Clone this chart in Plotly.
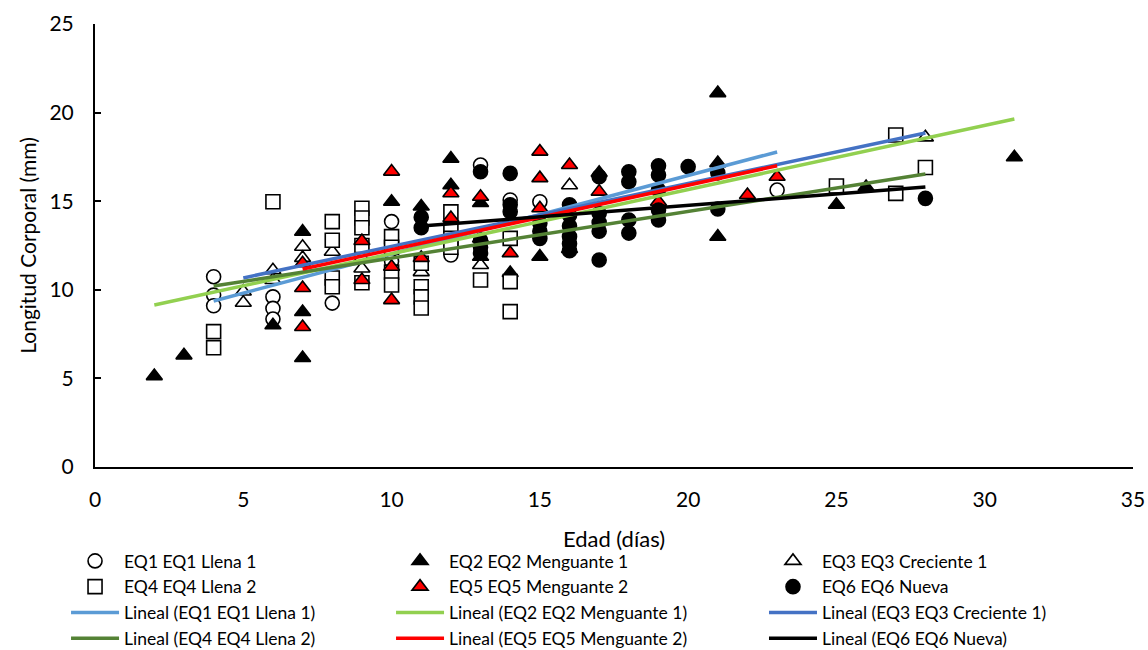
import plotly.graph_objects as go

# ---- data ----
eq1_x = [4, 4, 4, 6, 6, 6, 8, 10, 10, 12, 13, 14, 15, 23]
eq1_y = [10.74, 9.7, 9.1, 9.6, 8.95, 8.35, 9.25, 13.85, 11.6, 11.96, 17.04, 15.07, 14.97, 15.63]

eq2_x = [2, 3, 6, 7, 7, 7, 10, 11, 12, 12, 13, 13, 14, 15, 16, 17, 21, 21, 21, 25, 26, 31]
eq2_y = [5.13, 6.3, 8.0, 13.28, 8.75, 6.15, 14.97, 14.7, 17.4, 15.9, 14.9, 11.87, 10.95,
         11.87, 12.3, 16.6, 21.1, 17.15, 13.0, 14.8, 15.8, 17.48]

eq3_x = [5, 5, 6, 6, 7, 7, 8, 9, 9, 11, 13, 16, 28]
eq3_y = [9.9, 9.27, 11.1, 10.55, 12.43, 11.8, 12.15, 11.8, 11.2, 11.0, 11.4, 15.9, 18.6]

eq4_x = [4, 4, 6, 8, 8, 8, 8, 9, 9, 9, 9, 9, 10, 10, 10, 10, 11, 11, 11, 11,
         12, 12, 12, 12, 13, 14, 14, 14, 25, 27, 27, 28]
eq4_y = [7.64, 6.73, 14.97, 13.85, 12.8, 10.67, 10.17, 14.6, 14.05, 13.5, 12.5, 10.4,
         13.0, 12.4, 11.0, 10.27, 11.5, 10.17, 9.6, 8.97, 14.4, 13.4, 12.9, 12.4,
         10.55, 12.9, 10.46, 8.77, 15.86, 18.74, 15.44, 16.9]

eq5_x = [7, 7, 7, 9, 9, 10, 10, 10, 11, 12, 12, 13, 13, 14, 15, 15, 15, 16, 17, 19, 22, 23]
eq5_y = [11.5, 10.1, 7.9, 12.75, 10.55, 16.67, 11.3, 9.42, 11.8, 15.45, 14.05, 15.25,
         12.9, 12.07, 17.8, 16.3, 14.6, 17.04, 15.54, 14.97, 15.35, 16.38]

eq6_x = [11, 11, 13, 13, 13, 13, 14, 14, 14, 15, 15, 15, 16, 16, 16, 16, 16, 16,
         17, 17, 17, 17, 17, 18, 18, 18, 18, 19, 19, 19, 19, 19, 20, 21, 21, 28]
eq6_y = [14.1, 13.5, 16.66, 12.8, 12.4, 12.07, 16.57, 14.8, 14.4, 13.75, 13.3, 12.9,
         14.8, 14.2, 13.6, 13.0, 12.6, 12.2, 16.38, 14.3, 13.8, 13.3, 11.68,
         16.66, 16.1, 13.94, 13.2, 17.0, 16.48, 15.63, 14.5, 13.94, 16.95, 16.6, 14.56, 15.16]

# trend line end points (as drawn in the reference)
trend_x0 = [4, 2, 5, 4, 7, 11]
trend_x1 = [23, 31, 28, 28, 23, 28]
trend_y0 = [9.37, 9.14, 10.67, 10.21, 11.17, 13.6]
trend_y1 = [17.78, 19.64, 18.85, 16.53, 17.0, 15.8]

names = ["EQ1 EQ1 Llena 1", "EQ2 EQ2 Menguante 1", "EQ3 EQ3 Creciente 1",
         "EQ4 EQ4 Llena 2", "EQ5 EQ5 Menguante 2", "EQ6 EQ6 Nueva"]

xs = [eq1_x, eq2_x, eq3_x, eq4_x, eq5_x, eq6_x]
ys = [eq1_y, eq2_y, eq3_y, eq4_y, eq5_y, eq6_y]

symbols = ["circle", "triangle-up", "triangle-up", "square", "triangle-up", "circle"]
fills = ["white", "black", "white", "white", "red", "black"]
trend_colors = ["#5B9BD5", "#92D050", "#4472C4", "#548235", "#FF0000", "#000000"]
legend_ids = ["legend", "legend2", "legend3", "legend", "legend2", "legend3"]

FONT = "Lato"

fig = go.Figure()
for i in range(6):
    fig.add_trace(go.Scatter(
        x=xs[i], y=ys[i], mode="markers", name=names[i],
        marker=dict(symbol=symbols[i], size=14, color=fills[i],
                    line=dict(color="black", width=1.6)),
        legend=legend_ids[i], cliponaxis=False,
    ))
for i in range(6):
    fig.add_trace(go.Scatter(
        x=[trend_x0[i], trend_x1[i]], y=[trend_y0[i], trend_y1[i]],
        mode="lines", name="Lineal (" + names[i] + ")",
        line=dict(color=trend_colors[i], width=3.5),
        legend=legend_ids[i],
    ))

leg_common = dict(orientation="v", yanchor="top", y=-0.1716, xanchor="left",
                  font=dict(family=FONT, size=17.5, color="black"),
                  bgcolor="rgba(0,0,0,0)", itemwidth=48, tracegroupgap=0)

fig.update_layout(
    width=1148, height=650,
    margin=dict(l=95, r=15, t=24, b=183, autoexpand=False),
    paper_bgcolor="white", plot_bgcolor="white",
    font=dict(family=FONT, size=19, color="black"),
    showlegend=True,
    legend=dict(x=-0.0279, **leg_common),
    legend2=dict(x=0.2852, **leg_common),
    legend3=dict(x=0.6445, **leg_common),
    xaxis=dict(range=[0, 35], tickvals=[0, 5, 10, 15, 20, 25, 30, 35],
               showgrid=False, zeroline=False, showline=True, linecolor="black",
               linewidth=2, ticks="", tickfont=dict(family=FONT, size=21),
               ticklabelstandoff=13, automargin=False,
               title=dict(text="Edad (días)", font=dict(family=FONT, size=22), standoff=21)),
    yaxis=dict(range=[0, 25], tickvals=[0, 5, 10, 15, 20, 25],
               showgrid=False, zeroline=False, showline=True, linecolor="black",
               linewidth=2, ticks="inside", ticklen=6, tickwidth=2, tickcolor="black",
               tickfont=dict(family=FONT, size=21), ticklabelstandoff=15, automargin=False,
               title=dict(text="Longitud Corporal (mm)", font=dict(family=FONT, size=21), standoff=7)),
)

fig.write_html("out.html", config={"displayModeBar": False},
               post_script="document.body.style.margin='0';")
